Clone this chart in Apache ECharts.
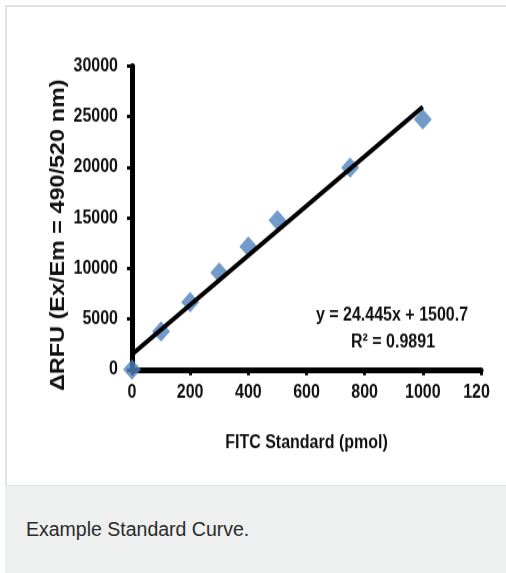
<!DOCTYPE html>
<html>
<head>
<meta charset="utf-8">
<script src="https://cdn.jsdelivr.net/npm/echarts@6/dist/echarts.min.js"></script>
<style>
  html, body { margin: 0; padding: 0; width: 506px; height: 573px; overflow: hidden; background: #fff; }
  #card { position: absolute; left: 5px; top: 5px; width: 530px; height: 478px; border: 2px solid #e2e2e2; background: #fff; }
  #caption { position: absolute; left: 5px; top: 486px; width: 530px; height: 87px; background: #eef0ef;
             font-family: "Liberation Sans", Arial, Helvetica, sans-serif; font-size: 19.5px; color: #2b2b2b; }
  #caption span { position: absolute; left: 21px; top: 32px; }
  /* the source figure is vertically stretched; reproduce by scaling the chart box */
  #chart { position: absolute; left: 0; top: 0; width: 490px; height: 414px;
           transform: scaleY(1.17); transform-origin: 0 0; }
</style>
</head>
<body>
<div id="card"></div>
<div id="caption"><span>Example Standard Curve.</span></div>
<div id="chart"></div>
<script>
// Data
var standardX = [0, 100, 200, 300, 400, 500, 750, 1000];          // FITC Standard (pmol)
var deltaRFU  = [0, 3760, 6660, 9570, 12150, 14750, 19970, 24720]; // ΔRFU
var trendX = [0, 1000];
var trendY = [1500.7, 25945.7];   // y = 24.445x + 1500.7 at x = 0 and x = 1000
var xTicks = { min: 0, max: 1200, interval: 200 };
var yTicks = { min: 0, max: 30000, interval: 5000 };
var xTitle = 'FITC Standard (pmol)';
var yTitle = 'ΔRFU (Ex/Em = 490/520 nm)';
var eqLine1 = 'y = 24.445x + 1500.7';
var eqLine2 = 'R² = 0.9891';

var font = '"Liberation Sans", Arial, Helvetica, sans-serif';
var txtColor = '#111111';
var plain = function (v) { return String(v); };

var scatterData = standardX.map(function (x, i) { return [x, deltaRFU[i]]; });
var trendData = trendX.map(function (x, i) { return [x, trendY[i]]; });

var chart = echarts.init(document.getElementById('chart'), null, { renderer: 'canvas' });
chart.setOption({
  animation: false,
  grid: { left: 132, top: 56.4, width: 349, height: 259.4, containLabel: false, outerBoundsMode: 'none' },
  xAxis: {
    type: 'value', min: xTicks.min, max: xTicks.max, interval: xTicks.interval,
    name: xTitle, nameLocation: 'middle', nameGap: 55,
    nameTextStyle: { fontFamily: font, fontWeight: 'bold', fontSize: 16, color: txtColor },
    axisLine: { show: true, onZero: false, lineStyle: { color: '#000', width: 5 } },
    axisTick: { show: true, inside: false, length: 5, lineStyle: { color: '#000', width: 3 } },
    axisLabel: { margin: 12, formatter: plain, hideOverlap: false, fontFamily: font, fontWeight: 'bold', fontSize: 16, color: txtColor },
    splitLine: { show: false }
  },
  yAxis: {
    type: 'value', min: yTicks.min, max: yTicks.max, interval: yTicks.interval,
    axisLine: { show: true, onZero: false, lineStyle: { color: '#000', width: 5 } },
    axisTick: { show: true, inside: false, length: 5, lineStyle: { color: '#000', width: 3 } },
    axisLabel: { margin: 14, formatter: plain, fontFamily: font, fontWeight: 'bold', fontSize: 16, color: txtColor },
    splitLine: { show: false }
  },
  series: [
    {
      type: 'scatter', data: scatterData, symbol: 'diamond', symbolSize: [18, 17.5],
      itemStyle: { color: '#4f81bd' }, z: 3
    },
    {
      type: 'line', data: trendData, symbol: 'none', z: 4,
      lineStyle: { color: '#000', width: 4 }
    }
  ],
  graphic: [
    {
      type: 'text', x: 58, y: 201, rotation: Math.PI / 2,
      style: { text: yTitle, fontFamily: font, fontWeight: 'bold', fontSize: 20,
               fill: txtColor, align: 'center', verticalAlign: 'middle' }
    },
    {
      type: 'text', x: 392, y: 270,
      style: { text: eqLine1, fontFamily: font, fontWeight: 'bold', fontSize: 16,
               fill: txtColor, align: 'center', verticalAlign: 'middle' }
    },
    {
      type: 'text', x: 393, y: 292.5,
      style: { text: eqLine2, fontFamily: font, fontWeight: 'bold', fontSize: 16,
               fill: txtColor, align: 'center', verticalAlign: 'middle' }
    }
  ]
});
</script>
</body>
</html>
